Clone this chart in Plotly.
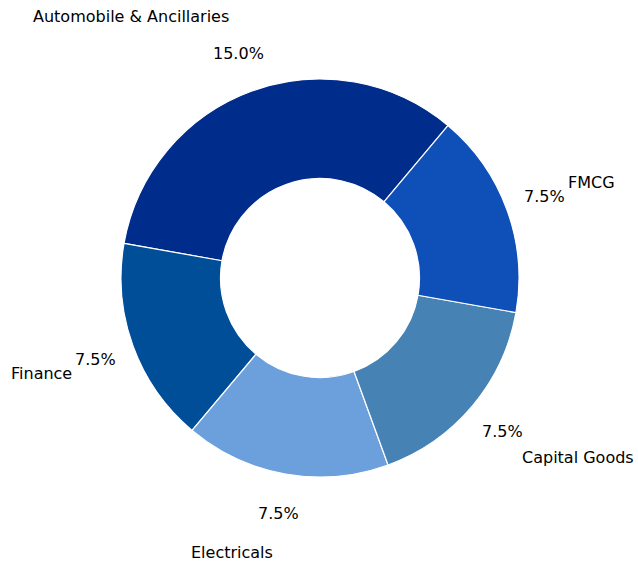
import math
import plotly.graph_objects as go

sectors = ["Automobile & Ancillaries", "Finance", "Electricals", "Capital Goods", "FMCG"]
weights = [15.0, 7.5, 7.5, 7.5, 7.5]
colors = ["#002D8C", "#004E98", "#6CA0DC", "#4682B4", "#0F4FB8"]

W, H = 638, 565
CX, CY, R = 320, 278, 199  # pixel centre and outer radius
START = 50  # degrees, math convention (counterclockwise from 3 o'clock)

total = sum(weights)
first_span = weights[0] / total * 360

fig = go.Figure(go.Pie(
    labels=sectors,
    values=weights,
    hole=0.5,
    sort=False,
    direction="counterclockwise",
    rotation=90 - START - first_span,
    marker=dict(colors=colors, line=dict(color="white", width=1.2)),
    textinfo="none",
    hoverinfo="skip",
    showlegend=False,
    domain=dict(x=[(CX - R) / W, (CX + R) / W], y=[(H - CY - R) / H, (H - CY + R) / H]),
))

cum = 0.0
font = dict(family="DejaVu Sans", size=16, color="#000000")
for name, v in zip(sectors, weights):
    mid = math.radians(START + (cum + v / 2) / total * 360)
    cum += v
    c, s = math.cos(mid), math.sin(mid)
    # percentage text
    fig.add_annotation(
        x=(CX + 1.2 * R * c) / W, y=(H - CY + 1.2 * R * s) / H,
        xref="paper", yref="paper", text=f"{v:.1f}%", showarrow=False,
        xanchor="center", yanchor="middle", font=font, borderpad=0,
    )
    # category label
    fig.add_annotation(
        x=(CX + 1.32 * R * c) / W, y=(H - CY + 1.4 * R * s) / H,
        xref="paper", yref="paper", text=name, showarrow=False,
        xanchor="left" if c > 0 else "right", yanchor="middle", font=font, borderpad=0,
    )

fig.update_layout(
    width=W, height=H,
    margin=dict(l=0, r=0, t=0, b=0),
    paper_bgcolor="white", plot_bgcolor="white",
)
fig.write_html("out.html")
